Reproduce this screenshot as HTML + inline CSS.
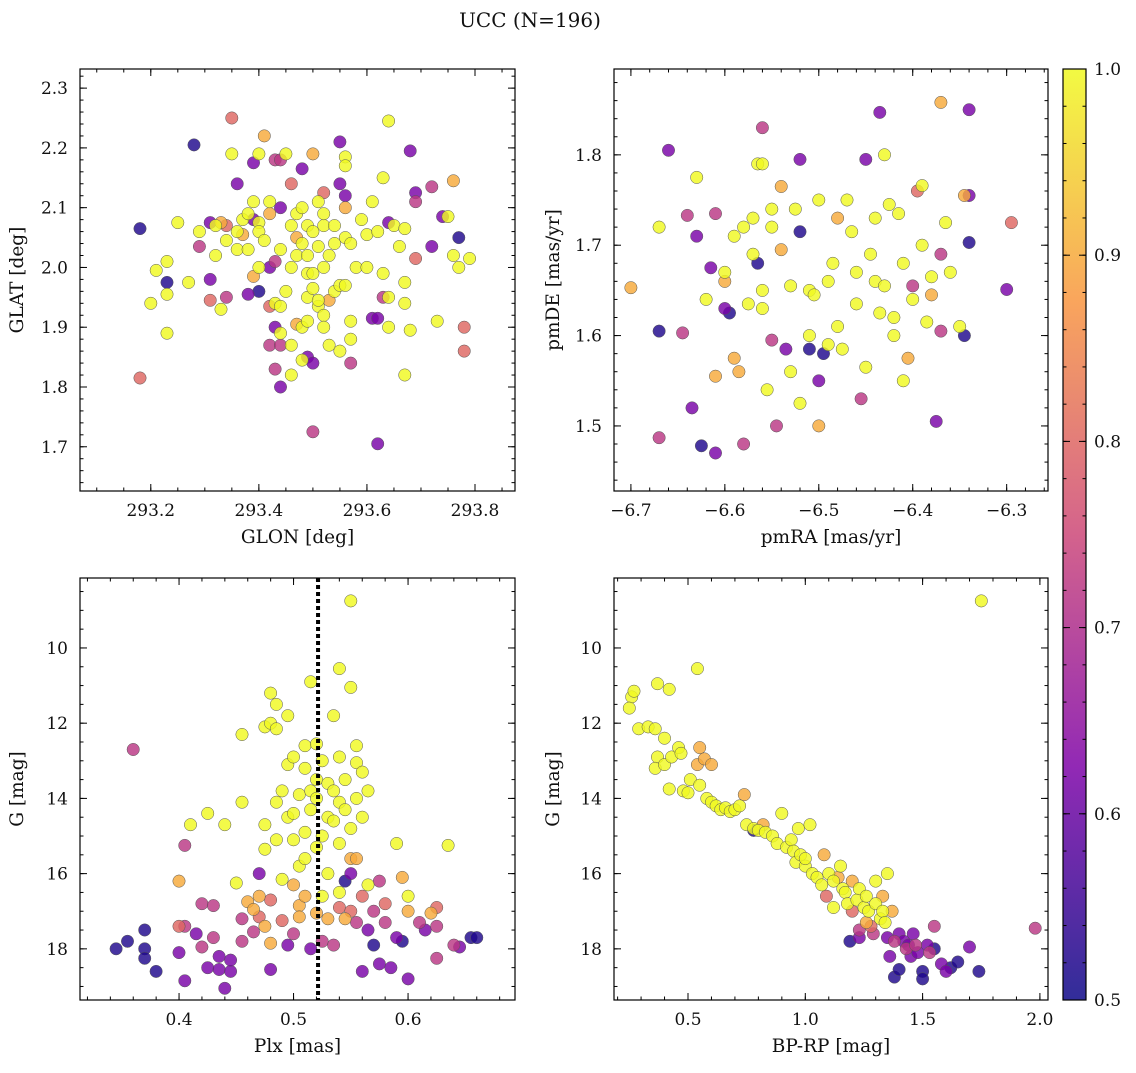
<!DOCTYPE html>
<html><head><meta charset="utf-8">
<style>
body{margin:0;background:#fff;}
svg text{font-family:"DejaVu Serif","Liberation Serif",serif;fill:#111;}
</style></head>
<body>
<svg id="fig" width="1136" height="1068" viewBox="0 0 1136 1068" xmlns="http://www.w3.org/2000/svg">
<text x="530" y="27" font-size="20" text-anchor="middle">UCC (N=196)</text>
</svg>
<script>
// probability codes: B=0.52, P=0.62, M=0.72, S=0.8, O=0.9, Y=1.0
const probCodes = {B:0.52,P:0.62,M:0.72,S:0.8,O:0.9,Y:1.0};

const glonGlat = [
[293.18,2.065,'B'],[293.18,1.815,'S'],[293.20,1.94,'Y'],[293.21,1.995,'Y'],[293.23,1.89,'Y'],[293.23,1.975,'B'],[293.23,2.01,'Y'],[293.23,1.955,'Y'],[293.25,2.075,'Y'],[293.27,1.975,'Y'],[293.28,2.205,'B'],[293.29,2.06,'Y'],[293.29,2.035,'M'],[293.31,2.075,'P'],[293.31,1.98,'P'],[293.31,1.945,'S'],[293.32,2.02,'Y'],[293.32,2.07,'Y'],[293.33,2.075,'O'],[293.33,1.93,'Y'],[293.34,2.045,'Y'],[293.34,1.95,'M'],[293.34,2.07,'S'],[293.35,2.25,'S'],[293.35,2.19,'Y'],[293.36,2.14,'P'],[293.36,2.03,'Y'],[293.36,2.06,'Y'],[293.37,2.055,'O'],[293.37,2.08,'Y'],[293.38,1.955,'P'],[293.38,2.03,'Y'],[293.38,2.09,'Y'],[293.39,2.175,'P'],[293.39,2.11,'Y'],[293.39,2.08,'P'],[293.39,1.985,'O'],[293.40,2.19,'Y'],[293.40,2.075,'Y'],[293.40,2.06,'Y'],[293.40,1.96,'B'],[293.40,2.0,'Y'],[293.41,2.22,'O'],[293.41,2.045,'Y'],[293.42,1.935,'S'],[293.42,1.87,'M'],[293.42,2.11,'Y'],[293.42,2.09,'O'],[293.42,2.0,'P'],[293.43,2.18,'M'],[293.43,1.9,'P'],[293.43,1.94,'Y'],[293.43,2.01,'M'],[293.43,1.83,'M'],[293.44,2.1,'P'],[293.44,1.8,'P'],[293.44,1.935,'Y'],[293.44,1.89,'Y'],[293.44,2.03,'Y'],[293.44,1.87,'M'],[293.44,2.18,'M'],[293.45,2.19,'Y'],[293.45,1.96,'Y'],[293.46,2.07,'Y'],[293.46,2.0,'Y'],[293.46,1.87,'Y'],[293.46,1.82,'Y'],[293.46,2.14,'S'],[293.47,2.09,'Y'],[293.47,2.05,'O'],[293.47,1.905,'O'],[293.47,2.02,'Y'],[293.48,2.04,'Y'],[293.48,1.845,'Y'],[293.48,1.9,'Y'],[293.48,2.165,'P'],[293.48,2.1,'Y'],[293.49,2.07,'Y'],[293.49,2.02,'Y'],[293.49,1.99,'Y'],[293.49,1.95,'Y'],[293.49,1.91,'Y'],[293.49,1.85,'P'],[293.50,1.725,'M'],[293.50,1.84,'P'],[293.50,2.19,'O'],[293.50,2.06,'Y'],[293.50,1.99,'Y'],[293.50,1.965,'Y'],[293.51,1.935,'Y'],[293.51,2.11,'Y'],[293.51,2.035,'Y'],[293.51,1.945,'Y'],[293.52,2.07,'Y'],[293.52,2.0,'Y'],[293.52,2.125,'S'],[293.52,1.92,'Y'],[293.52,1.9,'Y'],[293.52,2.09,'Y'],[293.53,1.945,'O'],[293.53,1.87,'Y'],[293.53,2.02,'Y'],[293.54,2.04,'Y'],[293.54,1.96,'Y'],[293.54,2.07,'Y'],[293.55,2.21,'P'],[293.55,2.14,'P'],[293.55,1.97,'Y'],[293.55,1.86,'Y'],[293.56,2.185,'Y'],[293.56,2.17,'Y'],[293.56,2.12,'P'],[293.56,2.10,'O'],[293.56,2.05,'Y'],[293.56,1.97,'Y'],[293.57,2.04,'Y'],[293.57,1.91,'Y'],[293.57,1.88,'Y'],[293.57,1.84,'M'],[293.58,2.0,'Y'],[293.59,2.08,'Y'],[293.60,2.055,'Y'],[293.60,2.0,'Y'],[293.61,1.915,'P'],[293.61,2.11,'Y'],[293.62,2.06,'Y'],[293.62,1.915,'P'],[293.62,1.705,'P'],[293.63,2.15,'Y'],[293.63,1.99,'Y'],[293.63,1.95,'M'],[293.64,2.245,'Y'],[293.64,2.075,'P'],[293.64,1.95,'Y'],[293.64,1.90,'Y'],[293.65,2.07,'Y'],[293.66,2.035,'Y'],[293.67,2.065,'Y'],[293.67,1.975,'Y'],[293.67,1.94,'Y'],[293.67,1.82,'Y'],[293.68,2.195,'P'],[293.68,1.895,'Y'],[293.69,2.125,'P'],[293.69,2.11,'M'],[293.69,2.015,'S'],[293.72,2.035,'P'],[293.72,2.135,'M'],[293.73,1.91,'Y'],[293.74,2.085,'P'],[293.75,2.085,'Y'],[293.76,2.145,'O'],[293.76,2.02,'Y'],[293.77,2.05,'B'],[293.77,2.0,'Y'],[293.78,1.9,'S'],[293.78,1.86,'S'],[293.79,2.015,'Y']
];

const pmraPmde = [
[-6.70,1.653,'O'],[-6.67,1.72,'Y'],[-6.67,1.605,'B'],[-6.67,1.487,'M'],[-6.66,1.805,'P'],[-6.645,1.603,'M'],[-6.64,1.733,'M'],[-6.635,1.52,'P'],[-6.63,1.775,'Y'],[-6.63,1.71,'P'],[-6.625,1.478,'B'],[-6.62,1.64,'Y'],[-6.615,1.675,'P'],[-6.61,1.735,'M'],[-6.61,1.555,'O'],[-6.61,1.47,'P'],[-6.60,1.63,'P'],[-6.60,1.67,'Y'],[-6.60,1.66,'O'],[-6.595,1.625,'B'],[-6.59,1.71,'Y'],[-6.59,1.575,'O'],[-6.585,1.56,'O'],[-6.58,1.48,'M'],[-6.58,1.72,'Y'],[-6.575,1.635,'Y'],[-6.57,1.73,'Y'],[-6.57,1.69,'Y'],[-6.565,1.79,'Y'],[-6.565,1.68,'B'],[-6.56,1.83,'M'],[-6.56,1.65,'Y'],[-6.56,1.63,'Y'],[-6.56,1.79,'Y'],[-6.555,1.54,'Y'],[-6.55,1.595,'M'],[-6.55,1.74,'Y'],[-6.55,1.72,'Y'],[-6.545,1.50,'M'],[-6.54,1.695,'O'],[-6.54,1.765,'O'],[-6.535,1.585,'P'],[-6.53,1.655,'Y'],[-6.53,1.56,'Y'],[-6.525,1.74,'Y'],[-6.52,1.795,'P'],[-6.52,1.525,'Y'],[-6.52,1.715,'B'],[-6.51,1.65,'Y'],[-6.51,1.60,'Y'],[-6.51,1.585,'B'],[-6.505,1.645,'Y'],[-6.50,1.75,'Y'],[-6.50,1.55,'P'],[-6.50,1.50,'O'],[-6.495,1.58,'B'],[-6.49,1.59,'Y'],[-6.49,1.66,'Y'],[-6.485,1.68,'Y'],[-6.48,1.73,'O'],[-6.48,1.61,'Y'],[-6.475,1.585,'Y'],[-6.47,1.75,'Y'],[-6.465,1.715,'Y'],[-6.46,1.635,'Y'],[-6.46,1.67,'Y'],[-6.455,1.53,'M'],[-6.45,1.795,'P'],[-6.45,1.565,'Y'],[-6.445,1.69,'Y'],[-6.44,1.73,'Y'],[-6.44,1.66,'Y'],[-6.435,1.847,'P'],[-6.435,1.625,'Y'],[-6.43,1.80,'Y'],[-6.43,1.655,'Y'],[-6.425,1.745,'Y'],[-6.42,1.62,'Y'],[-6.42,1.60,'Y'],[-6.415,1.735,'Y'],[-6.41,1.68,'Y'],[-6.41,1.55,'Y'],[-6.405,1.575,'O'],[-6.40,1.64,'Y'],[-6.40,1.655,'M'],[-6.395,1.76,'S'],[-6.39,1.70,'Y'],[-6.39,1.766,'Y'],[-6.385,1.615,'Y'],[-6.38,1.665,'Y'],[-6.38,1.645,'O'],[-6.375,1.505,'P'],[-6.37,1.605,'M'],[-6.37,1.69,'M'],[-6.37,1.858,'O'],[-6.365,1.725,'Y'],[-6.36,1.67,'Y'],[-6.34,1.85,'P'],[-6.34,1.755,'P'],[-6.345,1.755,'O'],[-6.34,1.703,'B'],[-6.345,1.60,'B'],[-6.35,1.61,'Y'],[-6.295,1.725,'S'],[-6.30,1.651,'P']
];

const plxG = [
[0.345,18.0,'B'],[0.355,17.8,'B'],[0.36,12.7,'M'],[0.37,17.5,'B'],[0.37,18.0,'B'],[0.37,18.25,'B'],[0.38,18.6,'B'],[0.40,17.4,'S'],[0.40,16.2,'O'],[0.40,18.1,'P'],[0.405,17.4,'M'],[0.405,15.25,'M'],[0.405,18.85,'P'],[0.41,14.7,'Y'],[0.415,17.6,'P'],[0.42,16.8,'M'],[0.42,17.95,'M'],[0.425,18.5,'P'],[0.425,14.4,'Y'],[0.43,16.85,'M'],[0.43,17.7,'M'],[0.435,18.55,'P'],[0.435,18.2,'P'],[0.44,14.7,'Y'],[0.44,19.05,'P'],[0.445,18.6,'P'],[0.445,18.3,'P'],[0.45,16.25,'Y'],[0.455,17.2,'M'],[0.455,17.8,'M'],[0.455,12.3,'Y'],[0.455,14.1,'Y'],[0.46,16.75,'O'],[0.465,16.95,'O'],[0.465,17.55,'M'],[0.47,16.0,'P'],[0.47,17.15,'S'],[0.47,16.6,'O'],[0.475,12.1,'Y'],[0.475,15.35,'Y'],[0.475,14.7,'Y'],[0.475,17.4,'O'],[0.48,11.2,'Y'],[0.48,12.0,'Y'],[0.48,16.7,'S'],[0.48,17.85,'O'],[0.48,18.55,'P'],[0.485,11.5,'Y'],[0.485,12.15,'Y'],[0.485,14.1,'Y'],[0.485,15.1,'Y'],[0.49,13.8,'Y'],[0.49,16.15,'Y'],[0.49,17.25,'S'],[0.495,11.8,'Y'],[0.495,13.1,'Y'],[0.495,14.5,'Y'],[0.495,17.9,'P'],[0.50,12.9,'Y'],[0.50,14.4,'Y'],[0.50,15.1,'Y'],[0.50,16.3,'O'],[0.50,17.6,'M'],[0.505,13.9,'Y'],[0.505,15.8,'Y'],[0.505,16.85,'O'],[0.505,17.15,'O'],[0.51,12.6,'Y'],[0.51,13.2,'Y'],[0.51,14.9,'Y'],[0.51,15.6,'Y'],[0.51,16.6,'O'],[0.515,10.9,'Y'],[0.515,13.8,'Y'],[0.515,14.3,'Y'],[0.515,18.0,'P'],[0.52,12.55,'Y'],[0.52,13.5,'Y'],[0.52,14.0,'Y'],[0.52,15.3,'Y'],[0.52,17.05,'O'],[0.525,13.0,'Y'],[0.525,15.0,'Y'],[0.525,16.6,'Y'],[0.525,17.8,'M'],[0.53,13.6,'Y'],[0.53,14.5,'Y'],[0.53,16.0,'Y'],[0.53,17.2,'O'],[0.535,11.8,'Y'],[0.535,13.8,'Y'],[0.535,14.6,'Y'],[0.535,17.9,'M'],[0.54,10.55,'Y'],[0.54,12.9,'Y'],[0.54,14.1,'Y'],[0.54,15.2,'Y'],[0.54,16.5,'Y'],[0.54,16.9,'S'],[0.545,13.5,'Y'],[0.545,14.3,'Y'],[0.545,16.2,'B'],[0.545,17.2,'O'],[0.55,8.75,'Y'],[0.55,11.05,'Y'],[0.55,14.8,'Y'],[0.55,15.6,'O'],[0.55,16.0,'P'],[0.55,17.0,'S'],[0.555,12.6,'Y'],[0.555,13.05,'Y'],[0.555,14.0,'Y'],[0.555,15.6,'O'],[0.555,17.3,'M'],[0.56,13.3,'Y'],[0.56,14.5,'Y'],[0.56,16.6,'S'],[0.56,18.6,'P'],[0.565,13.8,'Y'],[0.565,16.3,'Y'],[0.565,17.5,'P'],[0.57,17.0,'M'],[0.57,17.9,'B'],[0.575,16.2,'M'],[0.575,18.4,'P'],[0.58,16.8,'S'],[0.58,17.3,'M'],[0.585,18.5,'P'],[0.59,17.7,'P'],[0.59,15.2,'Y'],[0.595,16.1,'O'],[0.595,17.8,'B'],[0.60,16.6,'Y'],[0.60,17.0,'O'],[0.60,18.8,'P'],[0.61,17.3,'M'],[0.615,17.5,'P'],[0.62,17.05,'O'],[0.625,16.9,'S'],[0.625,18.25,'M'],[0.625,17.4,'M'],[0.635,15.25,'Y'],[0.64,17.9,'M'],[0.645,17.95,'P'],[0.655,17.7,'B'],[0.66,17.7,'B']
];
const plxMedian = 0.5214;

const bprpG = [
[0.26,11.3,'Y'],[0.25,11.6,'Y'],[0.27,11.15,'Y'],[0.29,12.15,'Y'],[0.33,12.1,'Y'],[0.36,12.15,'Y'],[0.37,10.95,'Y'],[0.37,12.9,'Y'],[0.36,13.2,'Y'],[0.42,11.1,'Y'],[0.40,12.4,'Y'],[0.40,13.1,'Y'],[0.43,12.9,'Y'],[0.42,13.75,'Y'],[0.46,12.65,'Y'],[0.47,12.8,'Y'],[0.48,13.8,'Y'],[0.50,13.85,'Y'],[0.51,13.5,'Y'],[0.54,10.55,'Y'],[0.54,13.1,'O'],[0.55,12.65,'O'],[0.55,13.65,'Y'],[0.57,12.95,'O'],[0.60,13.1,'O'],[0.58,14.0,'Y'],[0.60,14.1,'Y'],[0.62,14.2,'Y'],[0.64,14.3,'Y'],[0.66,14.25,'Y'],[0.68,14.35,'Y'],[0.70,14.3,'Y'],[0.72,14.2,'Y'],[0.74,13.9,'O'],[0.75,14.7,'Y'],[0.78,14.85,'B'],[0.78,14.8,'Y'],[0.80,14.85,'Y'],[0.82,14.7,'O'],[0.83,14.9,'Y'],[0.86,15.0,'Y'],[0.88,15.2,'Y'],[0.90,14.4,'Y'],[0.92,15.3,'Y'],[0.94,15.1,'Y'],[0.95,15.4,'Y'],[0.96,15.7,'Y'],[0.97,14.8,'Y'],[0.98,15.5,'Y'],[1.0,15.8,'Y'],[1.0,15.6,'Y'],[1.02,14.7,'Y'],[1.03,16.0,'Y'],[1.05,16.1,'Y'],[1.07,16.3,'Y'],[1.08,15.5,'O'],[1.09,16.6,'S'],[1.1,16.0,'Y'],[1.12,16.2,'Y'],[1.12,16.9,'Y'],[1.14,16.1,'O'],[1.15,15.8,'Y'],[1.16,16.4,'Y'],[1.17,16.5,'Y'],[1.18,16.8,'Y'],[1.19,17.8,'B'],[1.2,17.0,'S'],[1.2,16.2,'O'],[1.22,16.7,'Y'],[1.23,16.4,'Y'],[1.23,17.5,'M'],[1.23,17.7,'P'],[1.25,16.9,'Y'],[1.26,16.6,'Y'],[1.26,17.3,'O'],[1.27,17.0,'Y'],[1.28,17.4,'S'],[1.29,17.6,'M'],[1.3,16.8,'Y'],[1.30,16.2,'Y'],[1.32,17.2,'Y'],[1.33,16.6,'O'],[1.33,17.0,'Y'],[1.34,17.3,'Y'],[1.35,17.7,'P'],[1.35,16.0,'Y'],[1.36,18.2,'P'],[1.37,17.0,'O'],[1.38,17.8,'M'],[1.38,18.75,'B'],[1.4,17.6,'P'],[1.4,18.55,'B'],[1.42,17.8,'P'],[1.43,18.0,'M'],[1.44,17.9,'P'],[1.45,18.2,'P'],[1.46,17.6,'P'],[1.47,17.9,'M'],[1.48,18.1,'P'],[1.5,18.6,'B'],[1.5,18.8,'B'],[1.52,17.9,'P'],[1.53,18.1,'M'],[1.55,17.4,'M'],[1.55,18.0,'B'],[1.58,18.4,'P'],[1.6,18.6,'P'],[1.62,18.5,'B'],[1.65,18.35,'B'],[1.7,17.95,'P'],[1.74,18.6,'B'],[1.75,8.75,'Y'],[1.98,17.45,'M']
];

const cbTicks = [0.5,0.6,0.7,0.8,0.9,1.0];

const NS='http://www.w3.org/2000/svg';
const svg=document.getElementById('fig');
function mk(tag,attrs,parent){const e=document.createElementNS(NS,tag);for(const k in attrs)e.setAttribute(k,attrs[k]);(parent||svg).appendChild(e);return e;}
const stops=[[0,[13,8,135]],[0.25,[126,3,168]],[0.5,[204,71,120]],[0.75,[248,149,64]],[1,[240,249,33]]];
function plasma(t){t=Math.max(0,Math.min(1,t));for(let i=1;i<stops.length;i++){if(t<=stops[i][0]){const a=stops[i-1],b=stops[i];const f=(t-a[0])/(b[0]-a[0]);const c=a[1].map((v,j)=>Math.round(v+(b[1][j]-v)*f));return 'rgb('+c.join(',')+')';}}return 'rgb(240,249,33)';}
function colorOf(code){return plasma((probCodes[code]-0.5)/0.5);}
function fmt(v,d){return v.toFixed(d).replace('-','\u2212');}

function panel(cfg){
  const g=mk('g',{});
  
  
  const {x0,x1,y0,y1,xmin,xmax,ymin,ymax,invY}=cfg;
  const sx=v=>x0+(v-xmin)/(xmax-xmin)*(x1-x0);
  const sy=v=>invY? y0+(v-ymin)/(ymax-ymin)*(y1-y0) : y1-(v-ymin)/(ymax-ymin)*(y1-y0);
  const pts=mk('g',{},g);
  
  
  const sorted=cfg.data.slice().sort((a,b)=>probCodes[a[2]]-probCodes[b[2]]);
  sorted.forEach(d=>{
    const c=mk('circle',{cx:sx(d[0]).toFixed(1),cy:sy(d[1]).toFixed(1),r:6.2,fill:colorOf(d[2]),'fill-opacity':0.82,stroke:'#555','stroke-width':0.5},pts);
    
    
  });
  if(cfg.vline!==undefined){
    const l=mk('line',{x1:sx(cfg.vline),x2:sx(cfg.vline),y1:y0,y2:y1,stroke:'#000','stroke-width':4,'stroke-dasharray':'4,3'},g);
    
    
  }
  const fr=mk('rect',{x:x0,y:y0,width:x1-x0,height:y1-y0,fill:'none',stroke:'#000','stroke-width':1.2},g);
  
  
  const eps=1e-9;
  for(let v=Math.ceil(xmin/cfg.xminor)*cfg.xminor;v<=xmax+eps;v+=cfg.xminor){
    const X=sx(v);mk('line',{x1:X,x2:X,y1:y1,y2:y1-3.5,stroke:'#000'},g);mk('line',{x1:X,x2:X,y1:y0,y2:y0+3.5,stroke:'#000'},g);}
  cfg.xticks.forEach(v=>{const X=sx(v);mk('line',{x1:X,x2:X,y1:y1,y2:y1-7,stroke:'#000'},g);mk('line',{x1:X,x2:X,y1:y0,y2:y0+7,stroke:'#000'},g);
    const t=mk('text',{x:X,y:y1+25,'font-size':17,'text-anchor':'middle'},g);t.textContent=fmt(v,cfg.xd);
    });
  for(let v=Math.ceil(ymin/cfg.yminor)*cfg.yminor;v<=ymax+eps;v+=cfg.yminor){
    const Y=sy(v);mk('line',{x1:x0,x2:x0+3.5,y1:Y,y2:Y,stroke:'#000'},g);mk('line',{x1:x1,x2:x1-3.5,y1:Y,y2:Y,stroke:'#000'},g);}
  cfg.yticks.forEach(v=>{const Y=sy(v);mk('line',{x1:x0,x2:x0+7,y1:Y,y2:Y,stroke:'#000'},g);mk('line',{x1:x1,x2:x1-7,y1:Y,y2:Y,stroke:'#000'},g);
    const t=mk('text',{x:x0-12,y:Y+6,'font-size':17,'text-anchor':'end'},g);t.textContent=fmt(v,cfg.yd);
    });
  const xl=mk('text',{x:(x0+x1)/2,y:y1+52,'font-size':18.5,'text-anchor':'middle'},g);xl.textContent=cfg.xlabel;
  
  const yx=x0-cfg.ylabOff, yy=(y0+y1)/2;
  const yl=mk('text',{x:yx,y:yy,'font-size':18.5,'text-anchor':'middle',transform:`rotate(-90 ${yx} ${yy})`},g);yl.textContent=cfg.ylabel;
  
}

panel({name:'glon-glat-panel',data:glonGlat,x0:80,x1:515,y0:69,y1:491,xmin:293.069,xmax:293.874,ymin:1.626,ymax:2.332,
  xticks:[293.2,293.4,293.6,293.8],xminor:0.05,yticks:[1.7,1.8,1.9,2.0,2.1,2.2,2.3],yminor:0.02,xd:1,yd:1,xlabel:'GLON [deg]',ylabel:'GLAT [deg]',ylabOff:57});
panel({name:'pm-panel',data:pmraPmde,x0:614,x1:1048,y0:69,y1:491,xmin:-6.718,xmax:-6.256,ymin:1.428,ymax:1.895,
  xticks:[-6.7,-6.6,-6.5,-6.4,-6.3],xminor:0.02,yticks:[1.5,1.6,1.7,1.8],yminor:0.02,xd:1,yd:1,xlabel:'pmRA [mas/yr]',ylabel:'pmDE [mas/yr]',ylabOff:55});
panel({name:'plx-g-panel',data:plxG,x0:80,x1:515,y0:578,y1:1000,xmin:0.3135,xmax:0.6934,ymin:8.14,ymax:19.36,invY:true,vline:plxMedian,
  xticks:[0.4,0.5,0.6],xminor:0.02,yticks:[10,12,14,16,18],yminor:0.5,xd:1,yd:0,xlabel:'Plx [mas]',ylabel:'G [mag]',ylabOff:57});
panel({name:'cmd-panel',data:bprpG,x0:614,x1:1048,y0:578,y1:1000,xmin:0.1846,xmax:2.0345,ymin:8.14,ymax:19.36,invY:true,
  xticks:[0.5,1.0,1.5,2.0],xminor:0.1,yticks:[10,12,14,16,18],yminor:0.5,xd:1,yd:0,xlabel:'BP-RP [mag]',ylabel:'G [mag]',ylabOff:55});

const cb=mk('g',{});


const defs=mk('defs',{},cb);
const lg=mk('linearGradient',{id:'cbg',x1:0,y1:1,x2:0,y2:0},defs);
for(let i=0;i<=20;i++){mk('stop',{offset:i/20,'stop-color':plasma(i/20),'stop-opacity':0.85},lg);}
const cx0=1063,cx1=1086,cy0=69,cy1=1000;
mk('rect',{x:cx0,y:cy0,width:cx1-cx0,height:cy1-cy0,fill:'url(#cbg)',stroke:'#000','stroke-width':1.2},cb);
const cy=v=>cy1-(v-0.5)/0.5*(cy1-cy0);
for(let v=0.5;v<=1.0001;v+=0.02){mk('line',{x1:cx1,x2:cx1-3.5,y1:cy(v),y2:cy(v),stroke:'#000'},cb);mk('line',{x1:cx0,x2:cx0+3.5,y1:cy(v),y2:cy(v),stroke:'#000'},cb);}
cbTicks.forEach(v=>{mk('line',{x1:cx1,x2:cx1-7,y1:cy(v),y2:cy(v),stroke:'#000'},cb);mk('line',{x1:cx0,x2:cx0+7,y1:cy(v),y2:cy(v),stroke:'#000'},cb);
  const t=mk('text',{x:cx1+8,y:cy(v)+6,'font-size':17},cb);t.textContent=v.toFixed(1);
  });
</script>
</body></html>
